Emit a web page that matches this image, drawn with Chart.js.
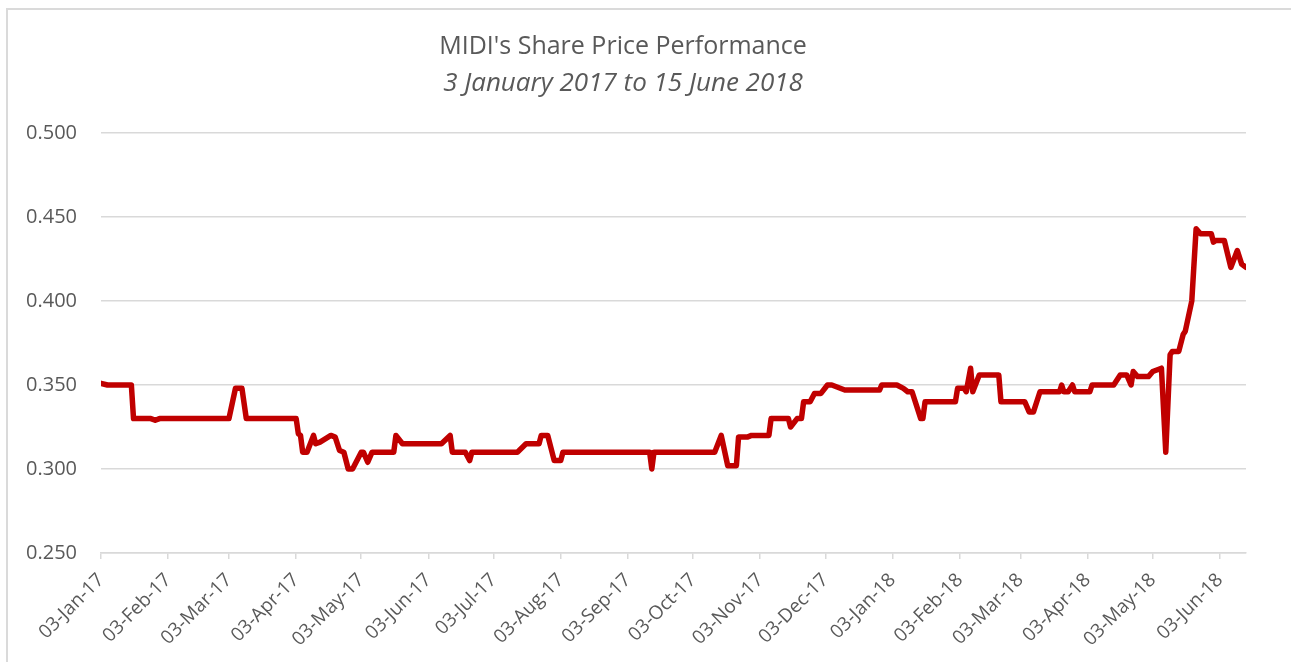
<!DOCTYPE html>
<html>
<head>
<meta charset="utf-8">
<script src="https://cdn.jsdelivr.net/npm/chart.js@4/dist/chart.umd.min.js"></script>
<style>
  html, body { margin: 0; padding: 0; background: #ffffff; overflow: hidden; }
  #wrap { position: relative; width: 1291px; height: 662px; overflow: hidden; }
  #frame { position: absolute; left: 6px; top: 8px; width: 1300px; height: 700px; border-left: 2px solid #dadada; border-top: 2px solid #dadada; }
  canvas { position: absolute; left: 0; top: 0; }
</style>
</head>
<body>
<div id="wrap">
  <div id="frame"></div>
  <canvas id="c" width="1291" height="662"></canvas>
</div>
<script>
const titleText = "MIDI's Share Price Performance";
const subtitleText = "3 January 2017 to 15 June 2018";

const dates = [
  '2017-01-03','2017-01-06','2017-01-17','2017-01-18','2017-01-26','2017-01-28','2017-01-30',
  '2017-03-03','2017-03-06','2017-03-09','2017-03-11','2017-04-03','2017-04-04','2017-04-05',
  '2017-04-06','2017-04-08','2017-04-11','2017-04-12','2017-04-14','2017-04-19','2017-04-21',
  '2017-04-23','2017-04-25','2017-04-27','2017-04-29','2017-05-03','2017-05-04','2017-05-06',
  '2017-05-08','2017-05-18','2017-05-19','2017-05-22','2017-06-09','2017-06-13','2017-06-14',
  '2017-06-20','2017-06-22','2017-06-23','2017-07-14','2017-07-18','2017-07-24','2017-07-25',
  '2017-07-28','2017-07-31','2017-08-03','2017-08-04','2017-09-13','2017-09-14','2017-09-15',
  '2017-10-13','2017-10-16','2017-10-19','2017-10-23','2017-10-24','2017-10-28','2017-10-30',
  '2017-11-07','2017-11-08','2017-11-16','2017-11-17','2017-11-20','2017-11-22','2017-11-23',
  '2017-11-26','2017-11-28','2017-12-01','2017-12-04','2017-12-06','2017-12-12','2017-12-28',
  '2017-12-29','2018-01-05','2018-01-08','2018-01-10','2018-01-12','2018-01-16','2018-01-17',
  '2018-01-18','2018-02-01','2018-02-02','2018-02-05','2018-02-06','2018-02-08','2018-02-09',
  '2018-02-12','2018-02-21','2018-02-22','2018-03-05','2018-03-07','2018-03-09','2018-03-12',
  '2018-03-21','2018-03-22','2018-03-23','2018-03-25','2018-03-27','2018-03-28','2018-04-04',
  '2018-04-05','2018-04-15','2018-04-18','2018-04-21','2018-04-23','2018-04-24','2018-04-26',
  '2018-05-01','2018-05-03','2018-05-07','2018-05-09','2018-05-11','2018-05-12','2018-05-15',
  '2018-05-17','2018-05-18','2018-05-21','2018-05-23','2018-05-25','2018-05-30','2018-05-31',
  '2018-06-01','2018-06-05','2018-06-08','2018-06-11','2018-06-13','2018-06-15'
];

const prices = [
  0.351,0.350,0.350,0.330,0.330,0.329,0.330,
  0.330,0.348,0.348,0.330,0.330,0.321,0.320,
  0.310,0.310,0.320,0.315,0.316,0.320,0.319,
  0.311,0.310,0.300,0.300,0.310,0.310,0.304,
  0.310,0.310,0.320,0.315,0.315,0.320,0.310,
  0.310,0.305,0.310,0.310,0.315,0.315,0.320,
  0.320,0.305,0.305,0.310,0.310,0.300,0.310,
  0.310,0.320,0.302,0.302,0.319,0.319,0.320,
  0.320,0.330,0.330,0.325,0.330,0.330,0.340,
  0.340,0.345,0.345,0.350,0.350,0.347,0.347,
  0.350,0.350,0.348,0.346,0.346,0.330,0.330,
  0.340,0.340,0.348,0.348,0.346,0.360,0.346,
  0.356,0.356,0.340,0.340,0.334,0.334,0.346,
  0.346,0.350,0.346,0.346,0.350,0.346,0.346,
  0.350,0.350,0.356,0.356,0.350,0.358,0.355,
  0.355,0.358,0.360,0.310,0.368,0.370,0.370,
  0.380,0.382,0.400,0.443,0.440,0.440,0.435,
  0.436,0.436,0.420,0.430,0.422,0.420
];

const tickDates = [
  '2017-01-03','2017-02-03','2017-03-03','2017-04-03','2017-05-03','2017-06-03',
  '2017-07-03','2017-08-03','2017-09-03','2017-10-03','2017-11-03','2017-12-03',
  '2018-01-03','2018-02-03','2018-03-03','2018-04-03','2018-05-03','2018-06-03'
];
const tickLabels = [
  '03-Jan-17','03-Feb-17','03-Mar-17','03-Apr-17','03-May-17','03-Jun-17',
  '03-Jul-17','03-Aug-17','03-Sep-17','03-Oct-17','03-Nov-17','03-Dec-17',
  '03-Jan-18','03-Feb-18','03-Mar-18','03-Apr-18','03-May-18','03-Jun-18'
];
const startDate = '2017-01-03';
const endDate = '2018-06-15';

const yMin = 0.25, yMax = 0.5, yStep = 0.05;

function dayIndex(s) {
  const p = s.split('-').map(Number);
  const p0 = startDate.split('-').map(Number);
  return Math.round((Date.UTC(p[0], p[1] - 1, p[2]) - Date.UTC(p0[0], p0[1] - 1, p0[2])) / 86400000);
}

const points = dates.map((d, i) => ({ x: dayIndex(d), y: prices[i] }));
const tickPos = tickDates.map(dayIndex);
const labelByPos = {};
tickPos.forEach((p, i) => { labelByPos[p] = tickLabels[i]; });

const textColor = '#595959';
const gridColor = '#d9d9d9';
const fontFamily = "'Open Sans', 'DejaVu Sans', sans-serif";

new Chart(document.getElementById('c'), {
  type: 'line',
  data: {
    datasets: [{
      data: points,
      borderColor: '#C00000',
      borderWidth: 5.5,
      pointRadius: 0,
      pointHoverRadius: 0,
      tension: 0,
      borderJoinStyle: 'round',
      borderCapStyle: 'round',
      fill: false
    }]
  },
  options: {
    responsive: false,
    animation: false,
    events: [],
    layout: { padding: { left: 0, right: 45, top: 0, bottom: 0 } },
    plugins: {
      legend: { display: false },
      tooltip: { enabled: false },
      title: {
        display: true,
        text: titleText,
        color: textColor,
        font: { family: fontFamily, size: 25, weight: 'normal' },
        padding: { top: 32, bottom: 0 }
      },
      subtitle: {
        display: true,
        text: subtitleText,
        color: textColor,
        font: { family: fontFamily, size: 26, style: 'italic', weight: 'normal' },
        padding: { top: 6.4, bottom: 33.4 }
      }
    },
    scales: {
      x: {
        type: 'linear',
        min: 0,
        max: dayIndex(endDate),
        afterBuildTicks: (scale) => { scale.ticks = tickPos.map(v => ({ value: v })); },
        afterFit: (scale) => { scale.height = 109; },
        grid: { drawOnChartArea: false, drawTicks: true, tickLength: 6, color: gridColor, lineWidth: 1.5 },
        border: { display: true, color: gridColor, width: 1.5 },
        ticks: {
          autoSkip: false,
          maxRotation: 45,
          minRotation: 45,
          padding: 10,
          color: textColor,
          font: { family: fontFamily, size: 19 },
          callback: (v) => labelByPos[v] !== undefined ? labelByPos[v] : ''
        }
      },
      y: {
        min: yMin,
        max: yMax,
        afterFit: (scale) => { scale.width = 101; },
        grid: { drawTicks: false, color: gridColor, lineWidth: 1.5 },
        border: { display: false },
        ticks: {
          stepSize: yStep,
          padding: 24,
          color: textColor,
          font: { family: fontFamily, size: 20 },
          callback: (v) => v.toFixed(3)
        }
      }
    }
  }
});
</script>
</body>
</html>
